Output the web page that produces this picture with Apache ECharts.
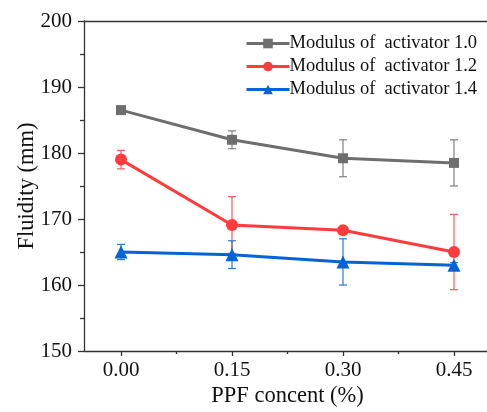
<!DOCTYPE html>
<html><head><meta charset="utf-8">
<script src="https://cdn.jsdelivr.net/npm/echarts@6/dist/echarts.min.js"></script>
<style>html,body{margin:0;padding:0;background:#fff}#c{width:487px;height:412px}</style>
</head><body><div id="c"></div>
<script>
var xValues = [0, 0.15, 0.30, 0.45];
var xTickLabels = ['0.00', '0.15', '0.30', '0.45'];
var yTicks = [150, 160, 170, 180, 190, 200];
var seriesNames = ['Modulus of  activator 1.0', 'Modulus of  activator 1.2', 'Modulus of  activator 1.4'];
var mod10 = [186.5, 182.0, 179.2, 178.5];
var mod10Err = [0.5, 1.35, 2.8, 3.5];
var mod12 = [179.0, 169.1, 168.3, 165.0];
var mod12Err = [1.4, 4.3, 0.3, 5.7];
var mod14 = [165.0, 164.6, 163.5, 163.0];
var mod14Err = [1.15, 2.1, 3.5, 0.4];

var colors = ['#6e6e6e', '#ff3b3b', '#0563d8'];
var errColors = ['#808080', '#ff5a5a', '#2a78dc'];
var symbols = ['rect', 'circle', 'triangle'];
var symSizes = [10, 12, 13];
var vals = [mod10, mod12, mod14];
var errs = [mod10Err, mod12Err, mod14Err];
var font = 'Liberation Serif';

var series = [];
vals.forEach(function (v, i) {
  series.push({
    type: 'custom', xAxisIndex: 0, yAxisIndex: 0, z: 1, silent: true,
    data: xValues.map(function (x, j) { return [x, v[j] - errs[i][j], v[j] + errs[i][j]]; }),
    renderItem: function (params, api) {
      var lo = api.coord([api.value(0), api.value(1)]);
      var hi = api.coord([api.value(0), api.value(2)]);
      var w = 4;
      var st = { stroke: errColors[i], lineWidth: 1.2 };
      return { type: 'group', children: [
        { type: 'line', shape: { x1: lo[0], y1: lo[1], x2: hi[0], y2: hi[1] }, style: st },
        { type: 'line', shape: { x1: lo[0] - w, y1: lo[1], x2: lo[0] + w, y2: lo[1] }, style: st },
        { type: 'line', shape: { x1: hi[0] - w, y1: hi[1], x2: hi[0] + w, y2: hi[1] }, style: st }
      ]};
    }
  });
});
vals.forEach(function (v, i) {
  series.push({
    name: seriesNames[i], type: 'line', xAxisIndex: 0, yAxisIndex: 0, z: 3,
    data: xValues.map(function (x, j) { return [x, v[j]]; }),
    symbol: symbols[i], symbolSize: symSizes[i], showAllSymbol: true,
    lineStyle: { color: colors[i], width: 3 },
    itemStyle: { color: colors[i] },
    emphasis: { disabled: true }
  });
});

var chart = echarts.init(document.getElementById('c'), null, { renderer: 'canvas' });
chart.setOption({
  animation: false,
  backgroundColor: '#fff',
  grid: { left: 84, top: 21, width: 407, height: 330, containLabel: false, outerBoundsMode: 'none' },
  legend: {
    data: seriesNames,
    orient: 'vertical', left: 240, top: 28, itemWidth: 43, itemHeight: 12, itemGap: 2,
    lineStyle: { width: 3 },
    textStyle: { fontFamily: font, fontSize: 18.5, lineHeight: 21, color: '#111', padding: [0, 0, 0, -5] },
    selectedMode: false
  },
  xAxis: [
    { type: 'value', min: -0.05, max: 0.5, position: 'bottom',
      name: 'PPF concent (%)', nameLocation: 'middle', nameGap: 34, nameMoveOverlap: false,
      nameTextStyle: { fontFamily: font, fontSize: 22.5, color: '#111' },
      axisLine: { onZero: false, lineStyle: { color: '#333', width: 1.3 } },
      axisTick: { show: true, inside: false, length: 5, customValues: xValues, lineStyle: { color: '#333', width: 1.3 } },
      axisLabel: { customValues: xValues, formatter: function (v) { var k = xValues.indexOf(v); return k >= 0 ? xTickLabels[k] : ''; },
        fontFamily: font, fontSize: 21, color: '#111', margin: 9 },
      splitLine: { show: false } },
    { type: 'value', min: -0.05, max: 0.5, position: 'bottom', gridIndex: 0,
      axisLine: { show: false, onZero: false },
      axisTick: { show: true, length: 3, customValues: [0.075, 0.225, 0.375], lineStyle: { color: '#333', width: 1.3 } },
      axisLabel: { show: false }, splitLine: { show: false } },
    { type: 'value', min: -0.05, max: 0.5, position: 'top', gridIndex: 0,
      axisLine: { show: true, onZero: false, lineStyle: { color: '#333', width: 1.3 } },
      axisTick: { show: false }, axisLabel: { show: false }, splitLine: { show: false } }
  ],
  yAxis: [{
    type: 'value', min: yTicks[0], max: yTicks[yTicks.length - 1], interval: 10, position: 'left',
    name: 'Fluidity (mm)', nameLocation: 'middle', nameGap: 45, nameRotate: 90, nameMoveOverlap: false,
    nameTextStyle: { fontFamily: font, fontSize: 22.5, color: '#111' },
    axisLine: { show: true, onZero: false, lineStyle: { color: '#333', width: 1.3 } },
    axisTick: { show: true, inside: false, length: 6, lineStyle: { color: '#333', width: 1.3 } },
    minorTick: { show: true, splitNumber: 2, length: 4, lineStyle: { color: '#333', width: 1.3 } },
    axisLabel: { fontFamily: font, fontSize: 21, color: '#111', margin: 12, padding: [4, 0, 0, 0] },
    splitLine: { show: false }
  }],
  series: series
});
</script></body></html>
